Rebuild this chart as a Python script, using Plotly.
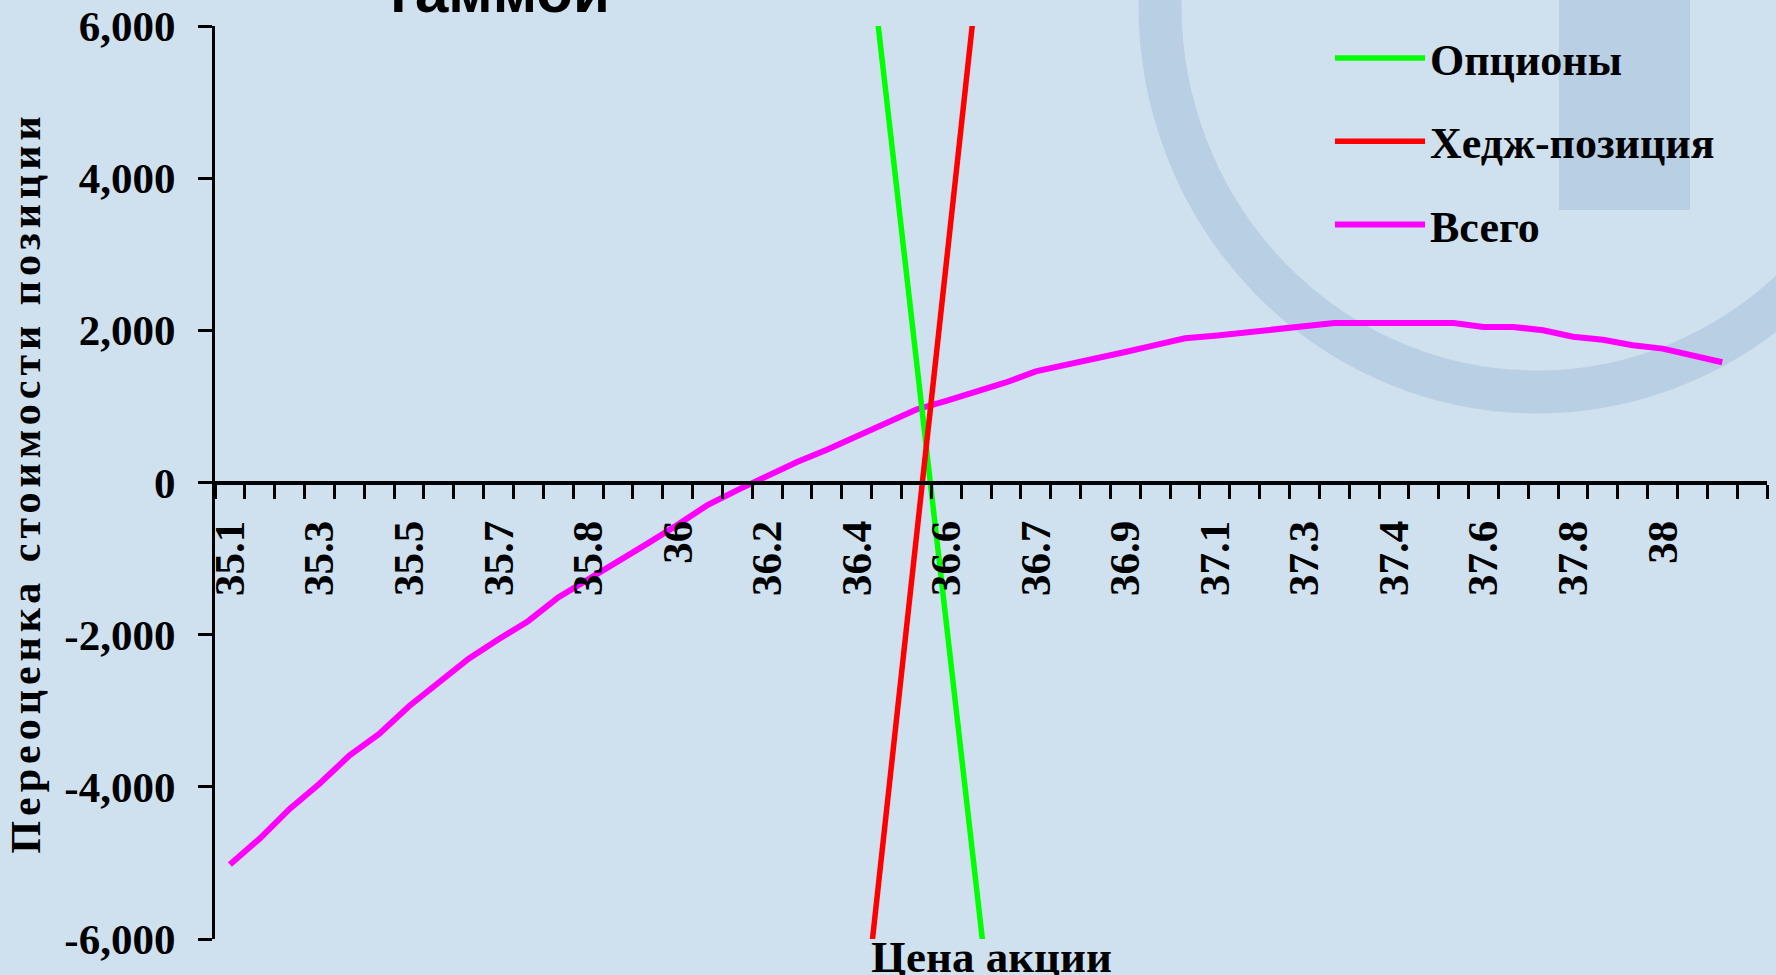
import plotly.graph_objects as go

# Share price categories (x axis), one per category slot
prices = [35.10, 35.16, 35.22, 35.28, 35.34, 35.40, 35.46, 35.52, 35.58, 35.65,
          35.70, 35.75, 35.80, 35.86, 35.92, 35.98, 36.04, 36.10, 36.16, 36.22,
          36.28, 36.36, 36.42, 36.48, 36.56, 36.61, 36.66, 36.71, 36.78, 36.84,
          36.90, 36.97, 37.03, 37.09, 37.15, 37.21, 37.27, 37.32, 37.37, 37.42,
          37.48, 37.54, 37.60, 37.66, 37.72, 37.78, 37.84, 37.90, 37.96, 38.02,
          38.08, 38.14]

# Labels shown on every third category
x_tick_labels = ["35.1", "35.3", "35.5", "35.7", "35.8", "36", "36.2", "36.4", "36.6",
                 "36.7", "36.9", "37.1", "37.3", "37.4", "37.6", "37.8", "38"]

y_tick_values = [-6000, -4000, -2000, 0, 2000, 4000, 6000]
y_tick_labels = ["-6,000", "-4,000", "-2,000", "0", "2,000", "4,000", "6,000"]

# Series values
options = [78338, 75085, 71882, 68619, 65396, 62088, 58860, 55587, 52298, 48961,
           45608, 42325, 38962, 35599, 32256, 28908, 25573, 22177, 18774, 15361,
           11928, 8515, 5102, 1679, -1800, -5277, -8745, -12193, -15706, -19219,
           -22717, -26220, -29723, -33281, -36834, -40382, -43930, -47488, -51081, -54674,
           -58267, -61860, -65503, -69096, -72734, -76412, -80045, -83708, -87346, -91029,
           -94712]

hedge = [-83358, -79765, -76172, -72579, -68986, -65393, -61800, -58207, -54614, -51021,
         -47428, -43835, -40242, -36649, -33056, -29463, -25870, -22277, -18684, -15091,
         -11498, -7905, -4312, -719, 2874, 6467, 10060, 13653, 17246, 20839,
         24432, 28025, 31618, 35211, 38804, 42397, 45990, 49583, 53176, 56769,
         60362, 63955, 67548, 71141, 74734, 78327, 81920, 85513, 89106, 92699,
         96292]

total = [-5020, -4680, -4290, -3960, -3590, -3305, -2940, -2620, -2316, -2060,
         -1820, -1510, -1280, -1050, -800, -555, -297, -100, 90, 270,
         430, 610, 790, 960, 1074, 1190, 1315, 1460, 1540, 1620,
         1715, 1805, 1895, 1930, 1970, 2015, 2060, 2095, 2095, 2095,
         2095, 2095, 2045, 2045, 2000, 1915, 1875, 1805, 1760, 1670,
         1580]

BG = "#CFE0EE"
WM = "#B9CFE4"
SERIF = "Liberation Serif"

def xs(series):
    return list(range(len(series)))

fig = go.Figure()
fig.add_trace(go.Scatter(x=xs(total), y=total, mode="lines", name="Всего",
                         line=dict(color="#FF00FF", width=6), legendrank=3,
                         legendgroup="c", customdata=prices[:len(total)]))
fig.add_trace(go.Scatter(x=xs(options), y=options, mode="lines", name="Опционы",
                         line=dict(color="#00FF00", width=5.5), legendrank=1,
                         legendgroup="a", customdata=prices[:len(options)]))
fig.add_trace(go.Scatter(x=xs(hedge), y=hedge, mode="lines", name="Хедж-позиция",
                         line=dict(color="#FF0000", width=5.5), legendrank=2,
                         legendgroup="b", customdata=prices[:len(hedge)]))

W, H = 1776, 975
L, R, T, B = 215, 9, 26, 36
pw, ph = W - L - R, H - T - B

def px(x):
    return (x - L) / pw

def py(y):
    return (H - B - y) / ph

# watermark shapes (decorative, below everything)
shapes = [
    dict(type="circle", xref="paper", yref="paper", layer="below",
         x0=px(1537 - 377), x1=px(1537 + 377), y0=py(5 + 387), y1=py(5 - 387),
         line=dict(color=WM, width=43), fillcolor="rgba(0,0,0,0)"),
    dict(type="rect", xref="paper", yref="paper", layer="below",
         x0=px(1559), x1=px(1690), y0=py(210), y1=py(-20),
         line=dict(width=0), fillcolor=WM),
]

n_cat = len(prices)
fig.update_layout(
    width=W, height=H,
    margin=dict(l=L, r=R, t=T, b=B, autoexpand=False),
    paper_bgcolor=BG, plot_bgcolor="rgba(0,0,0,0)",
    shapes=shapes,
    showlegend=True,
    legend=dict(x=px(1330), y=py(23), xanchor="left", yanchor="top",
                bgcolor="rgba(0,0,0,0)", traceorder="grouped",
                font=dict(family=SERIF, size=44, color="black", weight="bold"),
                tracegroupgap=23, itemwidth=90),
    xaxis=dict(
        range=[-0.5, n_cat - 0.5], anchor="free", position=0.5,
        showgrid=False, zeroline=False, showline=True, linecolor="black", linewidth=4,
        tickmode="array", tickvals=list(range(0, 3 * len(x_tick_labels), 3)),
        ticktext=x_tick_labels, tickangle=-90, ticks="outside", ticklen=0,
        ticklabelstandoff=19,
        tickfont=dict(family=SERIF, size=43, color="black", weight="bold"),
        minor=dict(tickmode="array", tickvals=[i - 0.5 for i in range(n_cat + 1)],
                   ticks="outside", ticklen=14, tickwidth=2.5, tickcolor="black"),
    ),
    yaxis=dict(
        range=[-6000, 6000], showgrid=False, zeroline=False, showline=True,
        linecolor="black", linewidth=3,
        tickmode="array", tickvals=y_tick_values, ticktext=y_tick_labels,
        ticks="outside", ticklen=14, tickwidth=3, tickcolor="black",
        ticklabelstandoff=14,
        tickfont=dict(family=SERIF, size=43, color="black", weight="bold"),
        title=dict(text="Переоценка стоимости позиции", standoff=11,
                   font=dict(family=SERIF, size=42, color="black", weight="bold")),
    ),
    annotations=[
        dict(text="Цена акции", xref="paper", yref="paper", x=0.5, y=py(930),
             xanchor="center", yanchor="top", showarrow=False,
             font=dict(family=SERIF, size=45, color="black", weight="bold")),
        dict(text="гаммой", xref="paper", yref="paper", x=px(500), y=py(27),
             xanchor="center", yanchor="bottom", showarrow=False,
             font=dict(family="Liberation Sans", size=60, color="black", weight="bold")),
    ],
)

post = """
var gd = document.getElementById('{plot_id}');
gd.querySelectorAll('.ytitle').forEach(function(e){ e.setAttribute('letter-spacing', '5px'); });
"""
fig.write_html("out.html", post_script=post)
